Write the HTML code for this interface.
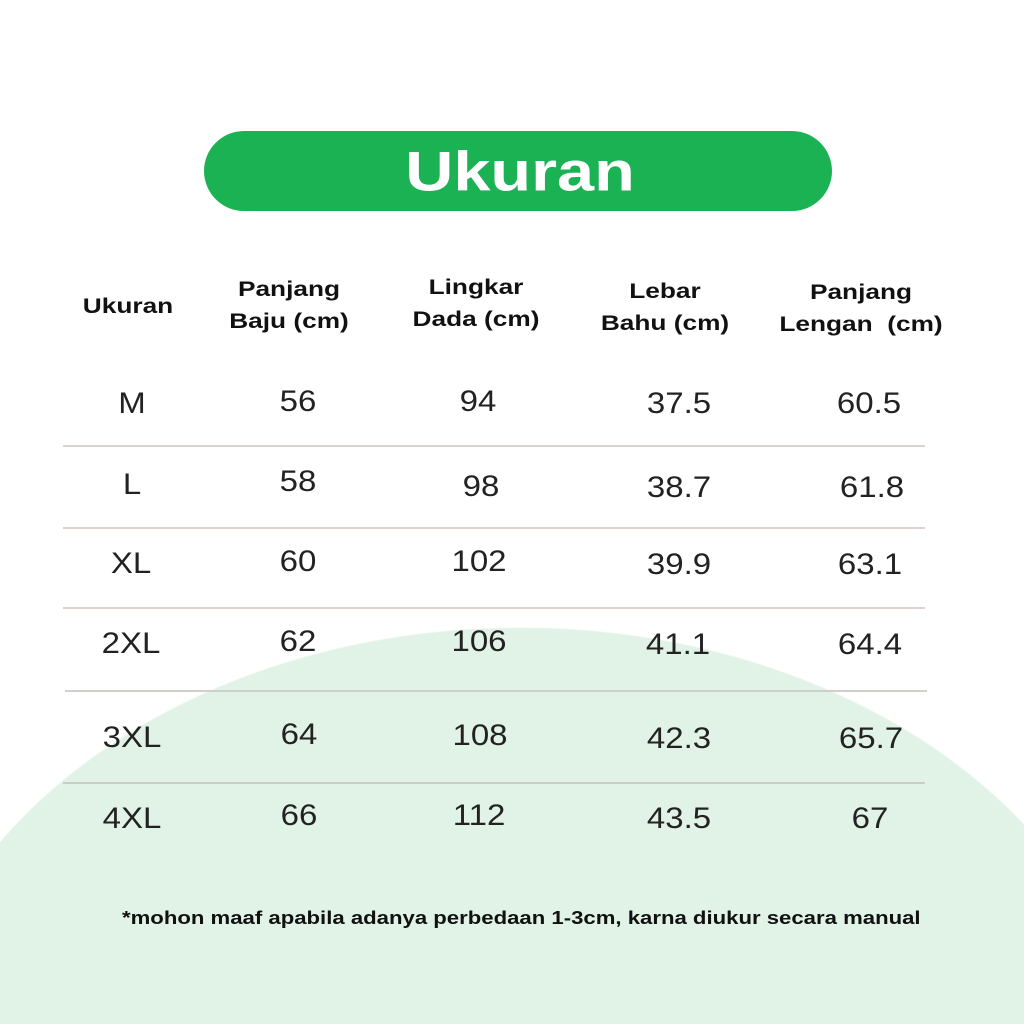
<!DOCTYPE html>
<html><head><meta charset="utf-8"><style>
html,body{margin:0;padding:0;width:1024px;height:1024px;overflow:hidden}
body{background:#fff;font-family:"Liberation Sans","DejaVu Sans",sans-serif;color:#111}
.wrap{position:relative;width:1024px;height:1024px;overflow:hidden;background:radial-gradient(ellipse 620px 470px at 520px 1097px,#e1f3e6 99.7%,#fff 100%)}
.pill{position:absolute;left:204px;top:131px;width:628px;height:80px;border-radius:40px;background:#1bb254}
.title{position:absolute;left:520px;top:171px;transform:translate(-50%,-50%) scaleX(1.19);color:#fff;font-weight:bold;font-size:56px;white-space:nowrap}
.t{position:absolute;white-space:nowrap;text-align:center}
.h{font-weight:bold;font-size:21px;line-height:32px;transform:translate(-50%,-50%) scaleX(1.25)}
.d{font-size:30px;color:#222;transform:translate(-50%,-50%) scaleX(1.1)}
.ln{position:absolute;height:2px;background:#ddd3ce}
.note{position:absolute;left:122px;top:908px;font-weight:bold;font-size:18px;color:#111;transform-origin:0 0;transform:scaleX(1.23);white-space:nowrap}
</style></head><body><div class="wrap">
<div class="pill"></div>
<div class="title">Ukuran</div>
<div class="t h" style="left:128px;top:307px">Ukuran</div>
<div class="t h" style="left:289px;top:306px">Panjang<br>Baju (cm)</div>
<div class="t h" style="left:476px;top:304px">Lingkar<br>Dada (cm)</div>
<div class="t h" style="left:665px;top:308px">Lebar<br>Bahu (cm)</div>
<div class="t h" style="left:861px;top:309px">Panjang<br>Lengan&nbsp; (cm)</div>

<div class="t d" style="left:132px;top:404px">M</div><div class="t d" style="left:298px;top:402px">56</div><div class="t d" style="left:478px;top:402px">94</div><div class="t d" style="left:679px;top:404px">37.5</div><div class="t d" style="left:869px;top:404px">60.5</div>
<div class="ln" style="left:63px;width:862px;top:445px"></div>
<div class="t d" style="left:132px;top:485px">L</div><div class="t d" style="left:298px;top:482px">58</div><div class="t d" style="left:481px;top:487px">98</div><div class="t d" style="left:679px;top:488px">38.7</div><div class="t d" style="left:872px;top:488px">61.8</div>
<div class="ln" style="left:63px;width:862px;top:527px"></div>
<div class="t d" style="left:131px;top:564px">XL</div><div class="t d" style="left:298px;top:562px">60</div><div class="t d" style="left:479px;top:562px">102</div><div class="t d" style="left:679px;top:565px">39.9</div><div class="t d" style="left:870px;top:565px">63.1</div>
<div class="ln" style="left:63px;width:862px;top:607px"></div>
<div class="t d" style="left:131px;top:644px">2XL</div><div class="t d" style="left:298px;top:642px">62</div><div class="t d" style="left:479px;top:642px">106</div><div class="t d" style="left:678px;top:645px">41.1</div><div class="t d" style="left:870px;top:645px">64.4</div>
<div class="ln" style="left:65px;width:862px;top:690px;background:#cfcfcc"></div>
<div class="t d" style="left:132px;top:738px">3XL</div><div class="t d" style="left:299px;top:735px">64</div><div class="t d" style="left:480px;top:736px">108</div><div class="t d" style="left:679px;top:739px">42.3</div><div class="t d" style="left:871px;top:739px">65.7</div>
<div class="ln" style="left:63px;width:862px;top:782px;background:#c9ccc9"></div>
<div class="t d" style="left:132px;top:819px">4XL</div><div class="t d" style="left:299px;top:816px">66</div><div class="t d" style="left:479px;top:816px">112</div><div class="t d" style="left:679px;top:819px">43.5</div><div class="t d" style="left:870px;top:819px">67</div>
<div class="note">*mohon maaf apabila adanya perbedaan 1-3cm, karna diukur secara manual</div>
</div></body></html>
